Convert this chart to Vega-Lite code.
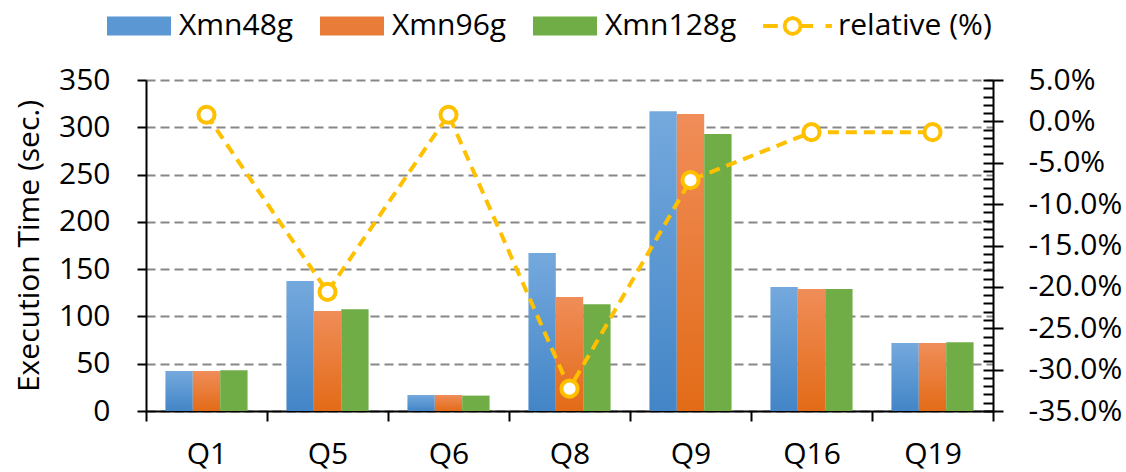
{
  "$schema": "https://vega.github.io/schema/vega-lite/v6.json",
  "width": 847,
  "height": 331,
  "autosize": {"type": "none"},
  "padding": {"left": 146, "top": 80, "right": 133, "bottom": 61},
  "config": {
    "font": "Open Sans",
    "view": {"stroke": null},
    "locale": {"number": {"decimal": ".", "thousands": ",", "grouping": [3], "currency": ["$", ""], "minus": "-"}},
    "axis": {
      "domainColor": "black", "domainWidth": 2,
      "tickColor": "black", "tickWidth": 2,
      "labelFontSize": 30, "labelColor": "black", "labelFont": "Open Sans",
      "titleFontSize": 30, "titleFontWeight": "normal", "titleColor": "black", "titleFont": "Open Sans"
    }
  },
  "datasets": {
    "times": [
      {"q": "Q1", "series": "Xmn48g", "time": 42.3},
      {"q": "Q1", "series": "Xmn96g", "time": 42.3},
      {"q": "Q1", "series": "Xmn128g", "time": 43.2},
      {"q": "Q5", "series": "Xmn48g", "time": 137.5},
      {"q": "Q5", "series": "Xmn96g", "time": 105.7},
      {"q": "Q5", "series": "Xmn128g", "time": 107.5},
      {"q": "Q6", "series": "Xmn48g", "time": 16.9},
      {"q": "Q6", "series": "Xmn96g", "time": 16.9},
      {"q": "Q6", "series": "Xmn128g", "time": 16.3},
      {"q": "Q8", "series": "Xmn48g", "time": 167},
      {"q": "Q8", "series": "Xmn96g", "time": 120.5},
      {"q": "Q8", "series": "Xmn128g", "time": 112.8},
      {"q": "Q9", "series": "Xmn48g", "time": 317},
      {"q": "Q9", "series": "Xmn96g", "time": 314},
      {"q": "Q9", "series": "Xmn128g", "time": 293},
      {"q": "Q16", "series": "Xmn48g", "time": 131},
      {"q": "Q16", "series": "Xmn96g", "time": 129},
      {"q": "Q16", "series": "Xmn128g", "time": 129},
      {"q": "Q19", "series": "Xmn48g", "time": 72},
      {"q": "Q19", "series": "Xmn96g", "time": 72},
      {"q": "Q19", "series": "Xmn128g", "time": 72.6}
    ],
    "rel": [
      {"q": "Q1", "rel": 0.008},
      {"q": "Q5", "rel": -0.206},
      {"q": "Q6", "rel": 0.008},
      {"q": "Q8", "rel": -0.323},
      {"q": "Q9", "rel": -0.071},
      {"q": "Q16", "rel": -0.013},
      {"q": "Q19", "rel": -0.013}
    ]
  },
  "layer": [
    {
      "data": {"name": "times"},
      "encoding": {
        "x": {
          "field": "q", "type": "nominal", "sort": null,
          "scale": {"paddingInner": 0, "paddingOuter": 0},
          "axis": {"title": null, "tickBand": "extent", "labelAngle": 0, "tickSize": 10, "labelPadding": 18, "grid": false}
        },
        "xOffset": {
          "field": "series", "type": "nominal",
          "scale": {"domain": ["Xmn48g", "Xmn96g", "Xmn128g"], "paddingInner": 0, "paddingOuter": 0.71}
        },
        "y": {
          "field": "time", "type": "quantitative",
          "scale": {"domain": [0, 350]},
          "axis": {
            "values": [0, 50, 100, 150, 200, 250, 300, 350],
            "title": "Execution Time (sec.)", "titlePadding": 14,
            "tickSize": 9, "labelPadding": 27,
            "grid": true, "gridColor": "#878787", "gridWidth": 2, "gridDash": [9, 5]
          }
        }
      },
      "layer": [
        {
          "transform": [{"filter": "datum.series === 'Xmn48g'"}],
          "mark": {"type": "bar", "color": {"gradient": "linear", "x1": 0, "y1": 0, "x2": 0, "y2": 1, "stops": [{"offset": 0, "color": "#74a9dd"}, {"offset": 1, "color": "#4385c7"}]}}
        },
        {
          "transform": [{"filter": "datum.series === 'Xmn96g'"}],
          "mark": {"type": "bar", "color": {"gradient": "linear", "x1": 0, "y1": 0, "x2": 0, "y2": 1, "stops": [{"offset": 0, "color": "#f08d59"}, {"offset": 1, "color": "#e26b17"}]}}
        },
        {
          "transform": [{"filter": "datum.series === 'Xmn128g'"}],
          "mark": {"type": "bar", "color": "#70ad47"}
        },
        {
          "mark": {"type": "bar", "opacity": 0},
          "encoding": {
            "color": {
              "field": "series", "type": "nominal",
              "scale": {
                "domain": ["Xmn48g", "Xmn96g", "Xmn128g", "relative (%)"],
                "range": ["#5b97d2", "#ea7c3a", "#70ad47", "#ffc000"]
              },
              "legend": {
                "orient": "none", "legendX": -39, "legendY": -86,
                "direction": "horizontal", "columns": 4, "title": null,
                "labelFontSize": 30, "labelFont": "Open Sans", "labelColor": "black",
                "symbolSize": 4096, "symbolType": "M-1,-0.3H1V0.3H-1Z",
                "labelOffset": 8, "columnPadding": 26,
                "encode": {
                  "symbols": {
                    "update": {
                      "shape": {"signal": "datum.value === 'relative (%)' ? 'M-1.09,-0.0625H-0.63V0.0625H-1.09Z M0.14,0L0.0985,0.155L-0.015,0.2685L-0.17,0.31L-0.325,0.2685L-0.4385,0.155L-0.48,0L-0.4385,-0.155L-0.325,-0.2685L-0.17,-0.31L-0.015,-0.2685L0.0985,-0.155Z M0.02,0L-0.0055,-0.095L-0.075,-0.1645L-0.17,-0.19L-0.265,-0.1645L-0.3345,-0.095L-0.36,0L-0.3345,0.095L-0.265,0.1645L-0.17,0.19L-0.075,0.1645L-0.0055,0.095Z M0.12,-0.0625H0.47V0.0625H0.12Z M0.86,-0.0625H1.06V0.0625H0.86Z' : 'M-1,-0.3H1V0.3H-1Z'"},
                      "fill": {"signal": "datum.value === 'relative (%)' ? '#ffc000' : datum.value === 'Xmn48g' ? {gradient: 'linear', x1: 0, y1: 0, x2: 0, y2: 1, stops: [{offset: 0, color: '#74a9dd'}, {offset: 1, color: '#4385c7'}]} : datum.value === 'Xmn96g' ? {gradient: 'linear', x1: 0, y1: 0, x2: 0, y2: 1, stops: [{offset: 0, color: '#f08d59'}, {offset: 1, color: '#e26b17'}]} : '#70ad47'"},
                      "stroke": {"value": "transparent"},
                      "strokeWidth": {"value": 0},
                      "opacity": {"value": 1},
                      "fillOpacity": {"value": 1},
                      "strokeOpacity": {"value": 1}
                    }
                  }
                }
              }
            }
          }
        }
      ]
    },
    {
      "data": {"name": "rel"},
      "mark": {"type": "line", "color": "#ffc000", "strokeWidth": 4, "strokeDash": [11, 7]},
      "encoding": {
        "x": {"field": "q", "type": "nominal", "sort": null},
        "y": {
          "field": "rel", "type": "quantitative",
          "scale": {"domain": [-0.35, 0.05]},
          "axis": {
            "orient": "right", "title": null, "labels": false, "domain": false, "grid": false,
            "tickSize": -10,
            "values": [-0.35, -0.34, -0.33, -0.32, -0.31, -0.3, -0.29, -0.28, -0.27, -0.26, -0.25, -0.24, -0.23, -0.22, -0.21, -0.2, -0.19, -0.18, -0.17, -0.16, -0.15, -0.14, -0.13, -0.12, -0.11, -0.1, -0.09, -0.08, -0.07, -0.06, -0.05, -0.04, -0.03, -0.02, -0.01, 0, 0.01, 0.02, 0.03, 0.04, 0.05]
          }
        }
      }
    },
    {
      "data": {"name": "rel"},
      "mark": {"type": "point", "filled": true, "fill": "#ffffff", "stroke": "#ffc000", "strokeWidth": 4, "size": 260, "opacity": 1},
      "encoding": {
        "x": {"field": "q", "type": "nominal", "sort": null},
        "y": {
          "field": "rel", "type": "quantitative",
          "scale": {"domain": [-0.35, 0.05]},
          "axis": {
            "orient": "right", "title": null, "grid": false,
            "values": [-0.35, -0.3, -0.25, -0.2, -0.15, -0.1, -0.05, 0, 0.05],
            "format": ".1%", "tickSize": 10, "labelPadding": 25
          }
        }
      }
    }
  ],
  "resolve": {"scale": {"y": "independent"}}
}
